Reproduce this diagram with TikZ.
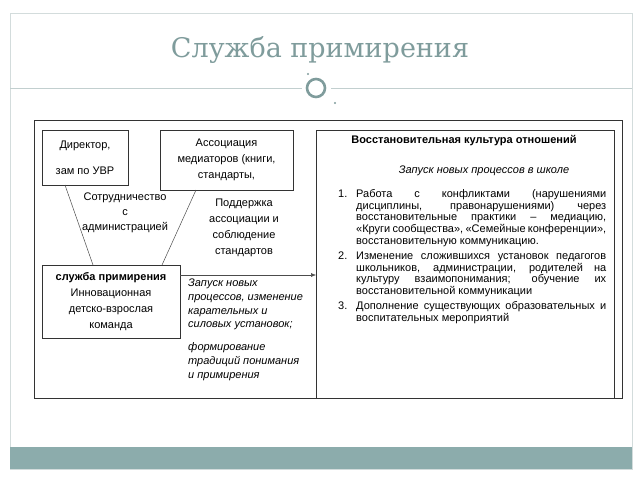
\documentclass[tikz,border=0pt]{standalone}
\usepackage{fontspec}
\setmainfont{Liberation Sans}
\newfontfamily\titlefont{DejaVu Serif}
\usetikzlibrary{arrows.meta}
\definecolor{teal1}{HTML}{7F9C9C}
\definecolor{band}{HTML}{8CACAC}
\definecolor{frame}{HTML}{D3DCDC}
\tikzset{
  box/.style={draw=black!80, line width=0.6pt},
  lbl/.style={font=\fontsize{11}{13}\selectfont, align=center, inner sep=0pt},
  itl/.style={font=\fontsize{11}{13.7}\selectfont\itshape, align=left, inner sep=0pt, anchor=north west},
  conn/.style={draw=black!70, line width=0.5pt}
}
\begin{document}
\begin{tikzpicture}[x=1pt,y=-1pt]
\useasboundingbox (0,0) rectangle (640,480);
% slide frame
\draw[frame, line width=0.8pt] (10,13) rectangle (632,469);
\fill[band] (10,447) rectangle (632,469);
\node[text=teal1, font=\titlefont\fontsize{27}{30}\selectfont] (title) at (320,50) {Служба примирения};
\draw[frame!80!teal1, line width=0.6pt] (10,88) -- (302,88) (331,88) -- (632,88);
\draw[teal1, line width=2.6pt] (316,88) circle (9);
\fill[teal1] (308,74) circle (1.2) (335,103) circle (1.2);
% main frame
\draw[box] (34,120) rectangle (622,398);
% boxes
\node[box, minimum width=86pt, minimum height=55pt, lbl, font=\fontsize{11}{26}\selectfont] (dir) at (85,157.5) {Директор,\\зам по УВР};
\node[box, minimum width=133pt, minimum height=60pt, lbl, font=\fontsize{11}{16}\selectfont, anchor=north, inner ysep=6pt] (assoc) at (226.5,130) {Ассоциация\\медиаторов (книги,\\стандарты,};
\node[box, minimum width=138pt, minimum height=73pt, lbl, font=\fontsize{11}{16}\selectfont] (serv) at (111,301.5) {\textbf{служба примирения}\\Инновационная\\детско-взрослая\\команда};
\draw[box] (316,398) |- (614,130) -- (614,398);
\coordinate (rb) at (316,275);
% connectors
\draw[conn] (65,185) -- (93,265);
\draw[conn] (196,190) -- (162,265);
\draw[conn, -{Latex[length=5pt,width=4pt]}] (serv.east |- rb) -- (rb);
% labels
\node[lbl, font=\fontsize{11}{15}\selectfont, anchor=north] (coop) at (125,193) {Сотрудничество\\с\\администрацией};
\node[lbl, font=\fontsize{11}{16}\selectfont, anchor=north] (supp) at (244,199) {Поддержка\\ассоциации и\\соблюдение\\стандартов};
\node[itl] (launch) at (188,279) {Запуск новых\\процессов, изменение\\карательных и\\силовых установок;\\[9pt]формирование\\традиций понимания\\и примирения};
% right box content
\node[lbl, font=\fontsize{11}{13}\selectfont\bfseries] (hdr) at (464,141) {Восстановительная культура отношений};
\node[lbl, font=\fontsize{11}{13}\selectfont\itshape] (sub) at (484,171) {Запуск новых процессов в школе};
\begin{scope}
\clip (317,180) rectangle (613,397);
\node[inner sep=0pt, anchor=north west, text width=268pt, align=justify, font=\fontsize{11}{11.8}\selectfont] (list) at (338,189) {%
\setlength{\parindent}{0pt}\setlength{\parskip}{3pt}%
\newcommand\itm[1]{\hangindent=18pt\hangafter=1\makebox[18pt][l]{#1}}%
\itm{1.}Работа с конфликтами (нарушениями дисциплины, правонарушениями) через восстановительные практики -- медиацию, «Круги сообщества», «Семейные конференции», восстановительную коммуникацию.\par
\itm{2.}Изменение сложившихся установок педагогов школьников, администрации, родителей на культуру взаимопонимания; обучение их восстановительной коммуникации\par
\itm{3.}Дополнение существующих образовательных и воспитательных мероприятий\par};
\end{scope}
\end{tikzpicture}
\end{document}
